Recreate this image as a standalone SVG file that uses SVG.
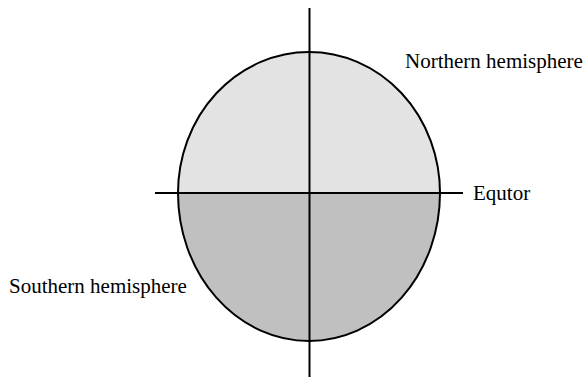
<svg xmlns="http://www.w3.org/2000/svg" width="588" height="377" viewBox="0 0 588 377">
<style>
.lbl{font-family:"Liberation Serif","Times New Roman",serif;font-size:21px;fill:#000}
.ln{stroke:#000;stroke-width:2;fill:none}
</style>
<rect width="588" height="377" fill="#fff"/>
<g id="north">
<path d="M178,193 A131,141 0 0 1 440,193 Z" fill="#e3e3e3"/>
<path class="ln" d="M178,193 A131,141 0 0 1 440,193"/>
</g>
<g id="south">
<path d="M178,193 A131,148 0 0 0 440,193 Z" fill="#c0c0c0"/>
<path class="ln" d="M178,193 A131,148 0 0 0 440,193"/>
</g>
<g id="connectors">
<line class="ln" x1="309.5" y1="8" x2="309.5" y2="377"/>
<line class="ln" x1="155" y1="193" x2="463" y2="193"/>
</g>
<g id="labels">
<text class="lbl" x="405" y="68">Northern hemisphere</text>
<text class="lbl" x="473" y="200">Equtor</text>
<text class="lbl" x="9" y="293">Southern hemisphere</text>
</g>
</svg>
